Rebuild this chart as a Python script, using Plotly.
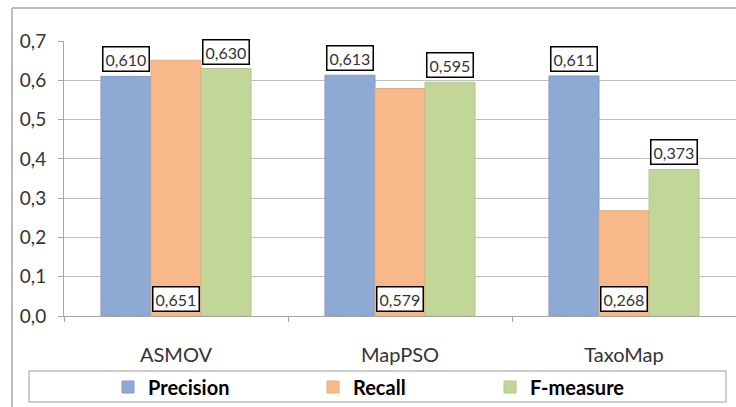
import plotly.graph_objects as go

categories = ["ASMOV", "MapPSO", "TaxoMap"]
precision = [0.610, 0.613, 0.611]
recall = [0.651, 0.579, 0.268]
fmeasure = [0.630, 0.595, 0.373]
y_ticks = [0.0, 0.1, 0.2, 0.3, 0.4, 0.5, 0.6, 0.7]

W, H = 736, 407
L, R, T, B = 64, 0, 41, 91
PW, PH = W - L - R, H - T - B

def px_x(px):
    return (px - L) / PW

def px_y(py):
    return (H - B - py) / PH

FONT = "Lato, 'Open Sans', sans-serif"
colors = {"Precision": "#8DA9D4", "Recall": "#F7B98A", "F-measure": "#C2D69A"}
edges = {"Precision": "#7E9BC8", "Recall": "#E9AA7C", "F-measure": "#B2C78A"}

fig = go.Figure()
series = [("Precision", precision, "legend"), ("Recall", recall, "legend2"), ("F-measure", fmeasure, "legend3")]
for name, vals, lg in series:
    fig.add_trace(go.Bar(
        x=categories, y=vals, name=name, legend=lg,
        marker=dict(color=colors[name], line=dict(color=edges[name], width=1)),
    ))

ann_style = dict(showarrow=False, bgcolor="white", bordercolor="black", borderwidth=1.5,
                 borderpad=2, font=dict(family=FONT, size=16, color="#333333"), yanchor="bottom")
annotations = []
for i, c in enumerate(categories):
    annotations.append(dict(x=c, y=precision[i], text=f"{precision[i]:.3f}".replace(".", ","),
                            xshift=-50, yshift=4, **ann_style))
    annotations.append(dict(x=c, y=0, text=f"{recall[i]:.3f}".replace(".", ","),
                            xshift=0, yshift=4, **ann_style))
    annotations.append(dict(x=c, y=fmeasure[i], text=f"{fmeasure[i]:.3f}".replace(".", ","),
                            xshift=50, yshift=4, **ann_style))

border = dict(color="#A6A6A6", width=1.5)
shapes = [
    # outer chart border: left and top edges (others lie outside the visible window)
    dict(type="line", xref="paper", yref="paper", x0=px_x(12), x1=px_x(12), y0=px_y(407), y1=px_y(8),
         line=border, layer="below"),
    dict(type="line", xref="paper", yref="paper", x0=px_x(12), x1=px_x(736), y0=px_y(8), y1=px_y(8),
         line=border, layer="below"),
    # legend box
    dict(type="rect", xref="paper", yref="paper", x0=px_x(29), x1=px_x(726), y0=px_y(402), y1=px_y(371),
         line=dict(color="#BFBFBF", width=1.5), layer="below"),
]

leg_common = dict(orientation="h", xref="container", yref="container", yanchor="middle",
                  bgcolor="rgba(0,0,0,0)", borderwidth=0,
                  font=dict(family=FONT, size=20, color="#000000", weight="bold"), itemclick=False)
fig.update_layout(
    width=W, height=H,
    margin=dict(l=L, r=R, t=T, b=B, autoexpand=False),
    paper_bgcolor="white", plot_bgcolor="white",
    separators=",.",
    barmode="group", bargap=0.33, bargroupgap=0,
    showlegend=True,
    legend=dict(x=108 / W, y=1 - 387 / H, **leg_common),
    legend2=dict(x=313 / W, y=1 - 387 / H, **leg_common),
    legend3=dict(x=490 / W, y=1 - 387 / H, **leg_common),
    annotations=annotations, shapes=shapes,
    xaxis=dict(showline=True, linecolor="#A6A6A6", linewidth=1, ticks="outside", tickson="boundaries",
               ticklen=5, tickcolor="#A6A6A6", showgrid=False, automargin=False,
               tickfont=dict(family=FONT, size=20, color="#333333"), ticklabelstandoff=21),
    yaxis=dict(range=[0, 0.7], tickvals=y_ticks, tickformat=".1f", showline=True, linecolor="#A6A6A6",
               linewidth=1, ticks="outside", ticklen=5, tickcolor="#A6A6A6", automargin=False,
               showgrid=True, gridcolor="#BFBFBF", gridwidth=1, zeroline=False,
               tickfont=dict(family=FONT, size=19, color="#333333"), ticklabelstandoff=8),
)

fig.write_html("out.html", config={"displayModeBar": False},
               post_script="document.body.style.margin='0';document.body.style.overflow='hidden';")
